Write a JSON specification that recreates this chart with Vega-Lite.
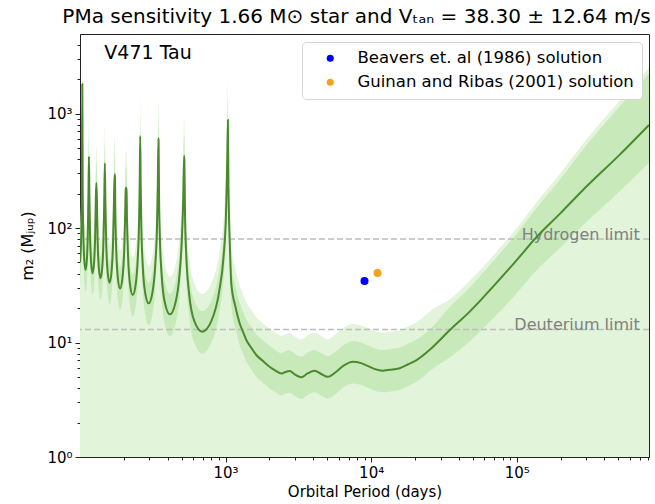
{
  "$schema": "https://vega.github.io/schema/vega-lite/v6.json",
  "autosize": {"type": "none"},
  "padding": {"left": 80, "top": 34, "right": 6, "bottom": 47},
  "width": 569,
  "height": 423,
  "title": {"text": "PMa sensitivity 1.66 M⊙ star and Vₜₐₙ = 38.30 ± 12.64 m/s", "font": "DejaVu Sans", "fontSize": 20, "fontWeight": "normal", "color": "black", "offset": 7, "dx": -8},
  "config": {
    "font": "DejaVu Sans",
    "view": {"stroke": "#222", "strokeWidth": 1},
    "axis": {"grid": false, "domainColor": "#222", "tickColor": "#222", "labelColor": "black", "titleColor": "black", "labelFont": "DejaVu Sans", "titleFont": "DejaVu Sans", "labelFontSize": 15, "titleFontSize": 15, "titleFontWeight": "normal", "labelOverlap": false, "labelFlush": false}
  },
  "datasets": {
    "curve": [
      {"P":100.0,"m":50.1,"lo":32.4,"hi":75.9,"h2":107.2},
      {"P":100.7,"m":56.5,"lo":36.5,"hi":85.5,"h2":120.9},
      {"P":102.2,"m":100.7,"lo":65.1,"hi":152.5,"h2":215.5},
      {"P":103.0,"m":209.4,"lo":135.3,"hi":317.0,"h2":448.1},
      {"P":103.7,"m":1811,"lo":1170,"hi":2742,"h2":3876},
      {"P":104.4,"m":196.8,"lo":127.1,"hi":298.0,"h2":421.2},
      {"P":105.3,"m":94.6,"lo":61.1,"hi":143.2,"h2":202.4},
      {"P":106.9,"m":53.1,"lo":34.3,"hi":80.4,"h2":113.6},
      {"P":109.2,"m":43.0,"lo":27.8,"hi":65.1,"h2":92.0},
      {"P":111.5,"m":53.1,"lo":34.3,"hi":80.4,"h2":113.6},
      {"P":113.3,"m":94.6,"lo":61.1,"hi":143.2,"h2":202.4},
      {"P":114.3,"m":196.8,"lo":127.1,"hi":298.0,"h2":421.2},
      {"P":115.2,"m":419.8,"lo":271.2,"hi":635.6,"h2":898.4},
      {"P":116.1,"m":184.1,"lo":118.9,"hi":278.7,"h2":394.0},
      {"P":117.2,"m":88.5,"lo":57.2,"hi":134.0,"h2":189.4},
      {"P":119.2,"m":49.7,"lo":32.1,"hi":75.2,"h2":106.4},
      {"P":122.0,"m":40.2,"lo":26.0,"hi":60.9,"h2":86.0},
      {"P":124.9,"m":49.7,"lo":32.1,"hi":75.2,"h2":106.4},
      {"P":127.2,"m":88.5,"lo":57.2,"hi":134.0,"h2":189.4},
      {"P":128.5,"m":184.1,"lo":118.9,"hi":278.7,"h2":394.0},
      {"P":129.6,"m":247.2,"lo":159.7,"hi":374.3,"h2":529.0},
      {"P":130.8,"m":166.7,"lo":107.7,"hi":252.4,"h2":356.7},
      {"P":132.1,"m":80.2,"lo":51.8,"hi":121.4,"h2":171.6},
      {"P":134.7,"m":45.0,"lo":29.1,"hi":68.1,"h2":96.3},
      {"P":138.3,"m":36.4,"lo":23.5,"hi":55.1,"h2":77.9},
      {"P":142.1,"m":45.0,"lo":29.1,"hi":68.1,"h2":96.3},
      {"P":145.0,"m":80.2,"lo":51.8,"hi":121.4,"h2":171.6},
      {"P":146.7,"m":166.7,"lo":107.7,"hi":252.4,"h2":356.7},
      {"P":148.1,"m":367.3,"lo":237.3,"hi":556.1,"h2":786.0},
      {"P":149.6,"m":152.4,"lo":98.5,"hi":230.7,"h2":326.1},
      {"P":151.4,"m":73.3,"lo":47.4,"hi":111.0,"h2":156.9},
      {"P":154.8,"m":41.1,"lo":26.6,"hi":62.2,"h2":88.0},
      {"P":159.5,"m":33.3,"lo":21.5,"hi":50.4,"h2":71.3},
      {"P":164.6,"m":41.1,"lo":26.6,"hi":62.2,"h2":88.0},
      {"P":168.6,"m":73.3,"lo":47.4,"hi":111.0,"h2":156.9},
      {"P":170.8,"m":152.4,"lo":98.5,"hi":230.7,"h2":326.1},
      {"P":172.8,"m":294.4,"lo":190.2,"hi":445.7,"h2":630.0},
      {"P":173.8,"m":281.8,"lo":182.0,"hi":426.6,"h2":603.1},
      {"P":174.9,"m":136.1,"lo":87.9,"hi":206.1,"h2":291.3},
      {"P":177.3,"m":65.5,"lo":42.3,"hi":99.2,"h2":140.2},
      {"P":181.9,"m":36.7,"lo":23.7,"hi":55.6,"h2":78.5},
      {"P":188.5,"m":29.7,"lo":19.2,"hi":45.0,"h2":63.6},
      {"P":195.7,"m":36.7,"lo":23.7,"hi":55.6,"h2":78.5},
      {"P":201.4,"m":65.5,"lo":42.3,"hi":99.2,"h2":140.2},
      {"P":204.5,"m":136.1,"lo":87.9,"hi":206.1,"h2":291.3},
      {"P":206.2,"m":218.8,"lo":141.3,"hi":331.3,"h2":468.2},
      {"P":207.4,"m":224.9,"lo":145.3,"hi":340.5,"h2":481.3},
      {"P":208.7,"m":213.8,"lo":138.1,"hi":323.7,"h2":457.5},
      {"P":210.3,"m":119.1,"lo":76.9,"hi":180.3,"h2":254.9},
      {"P":213.8,"m":57.3,"lo":37.0,"hi":86.8,"h2":122.6},
      {"P":220.6,"m":32.1,"lo":20.7,"hi":48.6,"h2":68.7},
      {"P":230.4,"m":26.0,"lo":16.8,"hi":39.4,"h2":55.6},
      {"P":241.2,"m":32.1,"lo":20.7,"hi":48.6,"h2":68.7},
      {"P":249.9,"m":57.3,"lo":37.0,"hi":86.8,"h2":122.6},
      {"P":254.8,"m":119.1,"lo":76.9,"hi":180.3,"h2":254.9},
      {"P":257.3,"m":276,"lo":178.3,"hi":417.9,"h2":590.6},
      {"P":259.25,"m":635,"lo":410.2,"hi":961.4,"h2":1359},
      {"P":261.2,"m":233.3,"lo":150.7,"hi":353.2,"h2":499.3},
      {"P":263.9,"m":100.7,"lo":65.1,"hi":152.5,"h2":215.5},
      {"P":269.4,"m":48.4,"lo":31.3,"hi":73.3,"h2":103.6},
      {"P":280.3,"m":27.2,"lo":17.6,"hi":41.2,"h2":58.2},
      {"P":296.3,"m":21.98,"lo":14.2,"hi":33.3,"h2":47.0},
      {"P":314.2,"m":27.2,"lo":17.6,"hi":41.2,"h2":58.2},
      {"P":329.2,"m":48.4,"lo":31.3,"hi":73.3,"h2":103.6},
      {"P":337.8,"m":100.7,"lo":65.1,"hi":152.5,"h2":215.5},
      {"P":342.2,"m":233.3,"lo":150.7,"hi":353.2,"h2":499.3},
      {"P":345.7,"m":607,"lo":392.1,"hi":919.0,"h2":1299},
      {"P":346.8,"m":561,"lo":362.4,"hi":849.4,"h2":1201},
      {"P":349.2,"m":187.1,"lo":120.9,"hi":283.3,"h2":400.4},
      {"P":353.9,"m":80.7,"lo":52.1,"hi":122.2,"h2":172.7},
      {"P":363.9,"m":38.8,"lo":25.1,"hi":58.7,"h2":83.0},
      {"P":384.1,"m":21.8,"lo":14.1,"hi":33.0,"h2":46.7},
      {"P":414.8,"m":17.62,"lo":11.4,"hi":26.7,"h2":37.7},
      {"P":450.9,"m":21.8,"lo":14.1,"hi":33.0,"h2":46.7},
      {"P":482.3,"m":38.8,"lo":25.1,"hi":58.7,"h2":83.0},
      {"P":501.0,"m":80.7,"lo":52.1,"hi":122.2,"h2":172.7},
      {"P":512.2,"m":187.1,"lo":120.9,"hi":283.3,"h2":400.4},
      {"P":518.5,"m":425.6,"lo":274.9,"hi":644.4,"h2":910.8},
      {"P":521.1,"m":395,"lo":255.2,"hi":598.0,"h2":845.3},
      {"P":526.4,"m":131.8,"lo":85.1,"hi":199.5,"h2":282.1},
      {"P":537.3,"m":56.9,"lo":36.8,"hi":86.1,"h2":121.8},
      {"P":560.5,"m":27.4,"lo":17.7,"hi":41.5,"h2":58.6},
      {"P":610.0,"m":15.35,"lo":9.92,"hi":23.2,"h2":32.8},
      {"P":691.3,"m":12.42,"lo":8.02,"hi":18.8,"h2":26.6},
      {"P":797.7,"m":15.35,"lo":9.92,"hi":23.2,"h2":32.8},
      {"P":901.7,"m":27.4,"lo":17.7,"hi":41.5,"h2":58.6},
      {"P":969.2,"m":56.9,"lo":36.8,"hi":86.1,"h2":121.8},
      {"P":1006.8,"m":131.8,"lo":85.1,"hi":199.5,"h2":282.1},
      {"P":1026.7,"m":395,"lo":255.2,"hi":598.0,"h2":845.3},
      {"P":1037,"m":877,"lo":566.5,"hi":1328,"h2":1877},
      {"P":1047,"m":223.9,"lo":144.6,"hi":339.0,"h2":479.1},
      {"P":1058,"m":112.2,"lo":72.5,"hi":169.9,"h2":240.1},
      {"P":1070,"m":70.8,"lo":45.7,"hi":107.2,"h2":151.5},
      {"P":1094,"m":32.9,"lo":21.3,"hi":49.8,"h2":70.4},
      {"P":1170,"m":20.4,"lo":13.2,"hi":30.9,"h2":43.7},
      {"P":1249,"m":14.72,"lo":9.51,"hi":22.3,"h2":31.5},
      {"P":1320,"m":12.30,"lo":7.95,"hi":18.6,"h2":26.3},
      {"P":1388,"m":10.52,"lo":6.80,"hi":15.9,"h2":22.5},
      {"P":1500,"m":9.02,"lo":5.83,"hi":13.7,"h2":19.3},
      {"P":1625,"m":7.78,"lo":5.03,"hi":11.8,"h2":16.6},
      {"P":1800,"m":6.92,"lo":4.47,"hi":10.5,"h2":14.8},
      {"P":2004,"m":6.15,"lo":3.97,"hi":9.31,"h2":13.2},
      {"P":2200,"m":5.69,"lo":3.68,"hi":8.61,"h2":12.2},
      {"P":2416,"m":5.35,"lo":3.46,"hi":8.10,"h2":11.4},
      {"P":2550,"m":5.50,"lo":3.55,"hi":8.33,"h2":11.8},
      {"P":2754,"m":5.64,"lo":3.64,"hi":8.54,"h2":12.1},
      {"P":3000,"m":5.25,"lo":3.39,"hi":7.95,"h2":11.2},
      {"P":3311,"m":4.97,"lo":3.21,"hi":7.52,"h2":10.6},
      {"P":3650,"m":5.37,"lo":3.47,"hi":8.13,"h2":11.5},
      {"P":4090,"m":5.68,"lo":3.67,"hi":8.60,"h2":12.2},
      {"P":4550,"m":5.31,"lo":3.43,"hi":8.04,"h2":11.4},
      {"P":5045,"m":5.02,"lo":3.24,"hi":7.60,"h2":10.7},
      {"P":5700,"m":5.50,"lo":3.55,"hi":8.33,"h2":11.8},
      {"P":6500,"m":6.31,"lo":4.08,"hi":9.55,"h2":13.5},
      {"P":7500,"m":6.79,"lo":4.39,"hi":10.3,"h2":14.5},
      {"P":8500,"m":6.61,"lo":4.27,"hi":10.0,"h2":14.1},
      {"P":9270,"m":6.31,"lo":4.08,"hi":9.55,"h2":13.5},
      {"P":10500,"m":5.89,"lo":3.80,"hi":8.92,"h2":12.6},
      {"P":12050,"m":5.68,"lo":3.67,"hi":8.60,"h2":12.2},
      {"P":14000,"m":5.82,"lo":3.76,"hi":8.81,"h2":12.5},
      {"P":15700,"m":5.96,"lo":3.85,"hi":9.02,"h2":12.8},
      {"P":18000,"m":6.46,"lo":4.17,"hi":9.78,"h2":13.8},
      {"P":20500,"m":7.03,"lo":4.54,"hi":10.6,"h2":15.0},
      {"P":26600,"m":9.18,"lo":5.93,"hi":13.9,"h2":19.6},
      {"P":34700,"m":12.85,"lo":7.39,"hi":20.4,"h2":23.9},
      {"P":47500,"m":18.62,"lo":10.2,"hi":30.2,"h2":34.7},
      {"P":70000,"m":31.6,"lo":16.6,"hi":52.5,"h2":58.8},
      {"P":100000,"m":52.5,"lo":26.9,"hi":89.1,"h2":100.0},
      {"P":133000,"m":80.2,"lo":41.1,"hi":142.6,"h2":160.0},
      {"P":200000,"m":134.9,"lo":67.6,"hi":269.1,"h2":302.0},
      {"P":300000,"m":229.1,"lo":112.3,"hi":524.9,"h2":588.8},
      {"P":500000,"m":426.6,"lo":204.3,"hi":1122,"h2":1259},
      {"P":810000,"m":794.3,"lo":371.7,"hi":2238,"h2":2512}
    ],
    "limits": [
      {"lim": 80, "name": "Hydrogen limit", "Px": 700000},
      {"lim": 13, "name": "Deuterium limit", "Px": 700000}
    ],
    "sols": [
      {"P": 9000, "m": 34.5, "src": "Beavers et. al (1986) solution"},
      {"P": 11050, "m": 40.5, "src": "Guinan and Ribas (2001) solution"}
    ],
    "star": [
      {"P": 147, "m": 3377, "label": "V471 Tau"}
    ]
  },
  "encoding": {
    "x": {"field": "P", "type": "quantitative",
      "scale": {"type": "log", "domain": [100, 810000], "nice": false},
      "axis": {"title": "Orbital Period (days)", "titlePadding": 4, "labelPadding": 3,
        "values": [200,300,400,500,600,700,800,900,1000,2000,3000,4000,5000,6000,7000,8000,9000,10000,20000,30000,40000,50000,60000,70000,80000,90000,100000,200000,300000,400000,500000,600000,700000,800000],
        "labelExpr": "datum.value == 1000 ? '10³' : datum.value == 10000 ? '10⁴' : datum.value == 100000 ? '10⁵' : ''",
        "tickSize": {"condition": {"test": "datum.value == 1000 || datum.value == 10000 || datum.value == 100000", "value": 5}, "value": 3}}
    }
  },
  "layer": [
    {
      "data": {"name": "curve"},
      "mark": {"type": "area", "color": "#e2f4da", "clip": true, "interpolate": "monotone"},
      "encoding": {
        "y": {"field": "h2", "type": "quantitative",
          "scale": {"type": "log", "domain": [1, 4950], "nice": false},
          "axis": {"title": "m₂ (Mⱼᵤₚ)", "titleFontSize": 16, "titlePadding": 11, "labelPadding": 3,
            "values": [1,2,3,4,5,6,7,8,9,10,20,30,40,50,60,70,80,90,100,200,300,400,500,600,700,800,900,1000,2000,3000,4000],
            "labelExpr": "datum.value == 1 ? '10⁰' : datum.value == 10 ? '10¹' : datum.value == 100 ? '10²' : datum.value == 1000 ? '10³' : ''",
            "tickSize": {"condition": {"test": "datum.value == 1 || datum.value == 10 || datum.value == 100 || datum.value == 1000", "value": 5}, "value": 3}}},
        "y2": {"datum": 1}
      }
    },
    {
      "data": {"name": "curve"},
      "mark": {"type": "area", "color": "#c8eabb", "clip": true, "interpolate": "monotone"},
      "encoding": {
        "y": {"field": "hi", "type": "quantitative"},
        "y2": {"field": "lo"}
      }
    },
    {
      "data": {"name": "limits"},
      "mark": {"type": "rule", "color": "#bdbdbd", "strokeDash": [6, 3], "strokeWidth": 1.5},
      "encoding": {"y": {"field": "lim", "type": "quantitative"}, "x": null}
    },
    {
      "data": {"name": "limits"},
      "mark": {"type": "text", "align": "right", "baseline": "alphabetic", "fontSize": 16, "color": "#808080", "dy": 1},
      "encoding": {"x": {"field": "Px", "type": "quantitative"}, "y": {"field": "lim", "type": "quantitative"}, "text": {"field": "name"}}
    },
    {
      "data": {"name": "curve"},
      "mark": {"type": "line", "color": "#4a8a2c", "strokeWidth": 2, "clip": true, "interpolate": "monotone"},
      "encoding": {"y": {"field": "m", "type": "quantitative"}}
    },
    {
      "data": {"name": "star"},
      "mark": {"type": "text", "align": "left", "baseline": "middle", "fontSize": 19, "color": "black"},
      "encoding": {"y": {"field": "m", "type": "quantitative"}, "text": {"field": "label"}}
    },
    {
      "data": {"name": "sols"},
      "mark": {"type": "point", "filled": true, "size": 64, "opacity": 1},
      "encoding": {
        "y": {"field": "m", "type": "quantitative"},
        "color": {"field": "src", "type": "nominal",
          "scale": {"domain": ["Beavers et. al (1986) solution", "Guinan and Ribas (2001) solution"], "range": ["#0000ff", "#f5a31a"]},
          "legend": {"title": null, "orient": "none", "legendX": 222, "legendY": 8, "fillColor": "white", "strokeColor": "#d6d6d6", "cornerRadius": 4, "padding": 8, "labelFontSize": 16.5, "labelFont": "DejaVu Sans", "labelColor": "black", "labelLimit": 500, "symbolType": "circle", "symbolSize": 50, "symbolOffset": 12, "labelOffset": 19, "rowPadding": 7}}
      }
    }
  ]
}
